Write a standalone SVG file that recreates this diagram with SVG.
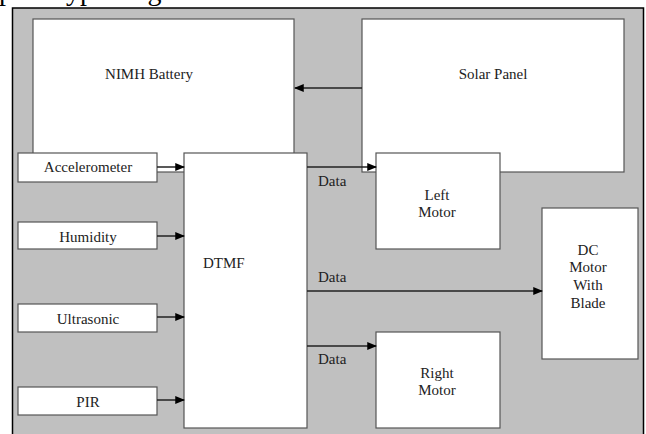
<svg xmlns="http://www.w3.org/2000/svg" width="646" height="434" viewBox="0 0 646 434">
<style>
.box{fill:#fff;stroke:#555;stroke-width:1.2}
.c{stroke:#222;stroke-width:1.5;fill:none;marker-end:url(#ah)}
</style>
<defs>
<marker id="ah" viewBox="0 0 10 8" refX="9" refY="4" markerWidth="6.5" markerHeight="5.2" markerUnits="strokeWidth" orient="auto">
<path d="M0,0 L10,4 L0,8 z" fill="#000"/>
</marker>
</defs>
<rect width="646" height="434" fill="#fff"/>
<text x="-1" y="0" font-family="'Liberation Serif', serif" font-size="28" fill="#000">prototype diagram</text>
<rect x="12.5" y="8" width="631" height="440" fill="#c0c0c0" stroke="#000" stroke-width="1.5"/>
<g font-family="'Liberation Serif', 'Times New Roman', serif" font-size="15" fill="#222" text-anchor="middle">
<g id="battery"><rect class="box" x="33" y="19" width="261" height="153"/><text x="149" y="79">NIMH Battery</text></g>
<g id="solar"><rect class="box" x="362" y="19" width="262" height="153"/><text x="493" y="79">Solar Panel</text></g>
<g id="accel"><rect class="box" x="18" y="153" width="139" height="29"/><text x="88" y="172">Accelerometer</text></g>
<g id="humidity"><rect class="box" x="18" y="222" width="139" height="27"/><text x="88" y="242">Humidity</text></g>
<g id="ultrasonic"><rect class="box" x="18" y="304" width="139" height="28"/><text x="88" y="324">Ultrasonic</text></g>
<g id="pir"><rect class="box" x="18" y="387" width="139" height="28"/><text x="88" y="407">PIR</text></g>
<g id="dtmf"><rect class="box" x="184" y="153" width="123" height="275"/><text x="203" y="268" text-anchor="start">DTMF</text></g>
<g id="leftmotor"><rect class="box" x="376" y="153" width="124" height="96"/><text x="437" y="200">Left</text><text x="437" y="217">Motor</text></g>
<g id="rightmotor"><rect class="box" x="376" y="332" width="124" height="96"/><text x="437" y="378">Right</text><text x="437" y="395">Motor</text></g>
<g id="dcmotor"><rect class="box" x="542" y="208" width="96" height="151"/><text x="588" y="255">DC</text><text x="588" y="272">Motor</text><text x="588" y="290">With</text><text x="588" y="308">Blade</text></g>
<g id="connectors">
<line class="c" x1="362" y1="88" x2="295" y2="88"/>
<line class="c" x1="157" y1="167" x2="184" y2="167"/>
<line class="c" x1="157" y1="236" x2="184" y2="236"/>
<line class="c" x1="157" y1="317" x2="184" y2="317"/>
<line class="c" x1="157" y1="400" x2="184" y2="400"/>
<line class="c" x1="307" y1="167" x2="376" y2="167"/>
<line class="c" x1="307" y1="291" x2="542" y2="291"/>
<line class="c" x1="307" y1="346" x2="376" y2="346"/>
<text x="318" y="186" text-anchor="start">Data</text>
<text x="318" y="282" text-anchor="start">Data</text>
<text x="318" y="364" text-anchor="start">Data</text>
</g>
</g>
</svg>
